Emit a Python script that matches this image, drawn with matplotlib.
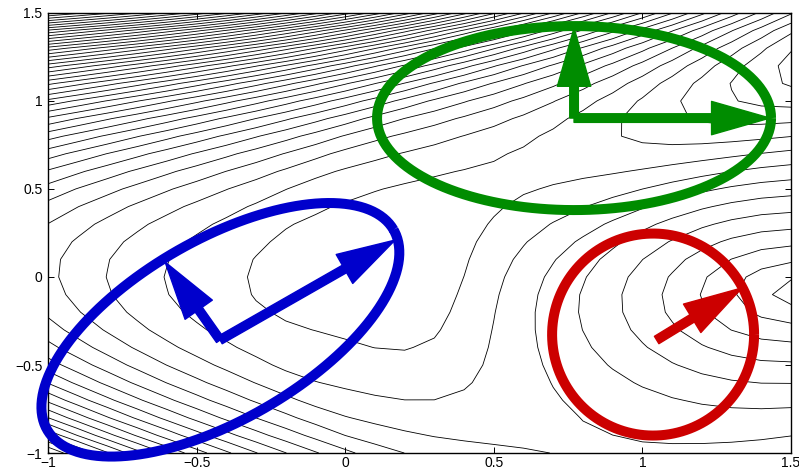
import numpy as np
import matplotlib
matplotlib.use("Agg")
import matplotlib.pyplot as plt
from matplotlib.patches import FancyArrowPatch

plt.rcParams["font.family"] = ["Liberation Sans", "DejaVu Sans"]
plt.rcParams["contour.negative_linestyle"] = "solid"

# axis ranges and ticks
x_lim = [-1.0, 1.5]
y_lim = [-1.0, 1.5]
x_ticks = [-1, -0.5, 0, 0.5, 1, 1.5]
y_ticks = [-1, -0.5, 0, 0.5, 1, 1.5]
grid_step = 0.1

# surface terms (s = x + 1)
top_wall = [3.15, 1.8, 0.42, 0.12]     # scale, rate, rate growth (linear, quadratic)
top_line = [0.02, 0.45, 0.04]          # wall base: offset, linear, quadratic in s
bottom_wall = [3.15, 1.8]              # scale, rate
bottom_line = [0.05, -0.55]            # wall base: offset, slope
left_wall = [0.35, 3.0]                # scale, rate
hill_center = [1.53, -0.08]
hill_shape = [12.1, 540.0, 1.4, 2.0, 2.0]   # height, reach (px), power, squeeze above, squeeze below
well_center = [2.0, 1.51]
well_shape = [4.0, 1.0, 0.25, 0.73]    # depth, length, width, axis slope
lift_center = [-0.15, 0.0]
lift_shape = [0.45, 0.22, 0.3]         # height, x width, y width
dip_center = [0.3, -0.15]
dip_shape = [-0.8, 0.18, 0.35]         # height, x width, y width
level_anchor = [-0.966, 0.05]          # a point lying on one of the drawn levels

# ellipses (center in data units, semi-axes in pixels, angle in degrees)
ell_centers = [(-0.42, -0.30), (0.77, 0.903), (1.036, -0.327)]
ell_axes = [(200, 90), (197, 92), (101, 101)]
ell_angles = [30, 0, 0]
ell_colors = ["#0000cc", "#008c00", "#cc0000"]

# arrows: origin, tip, colour index
arrow_from = [(-0.421, -0.358), (-0.421, -0.358), (0.77, 0.903), (0.77, 0.903), (1.048, -0.358)]
arrow_to = [(0.168, 0.21), (-0.606, 0.085), (1.429, 0.903), (0.77, 1.415), (1.335, -0.062)]
arrow_col = [0, 0, 1, 1, 2]

W, Hh, dpi = 799, 469, 100
ax_left, ax_right, ax_top, ax_bottom = 48, 791, 13, 453
# pixels per data unit
ppx = (ax_right - ax_left) / (x_lim[1] - x_lim[0])
ppy = (ax_bottom - ax_top) / (y_lim[1] - y_lim[0])


def bump(X, Y, c, shape):
    return shape[0] * np.exp(-0.5 * (((X - c[0]) / shape[1]) ** 2 + ((Y - c[1]) / shape[2]) ** 2))


def surface(X, Y):
    s = X - x_lim[0]
    kt = top_wall[1] + top_wall[2] * s + top_wall[3] * s ** 2
    qt = top_line[0] + top_line[1] * s + top_line[2] * s ** 2
    T = top_wall[0] * np.exp(kt * (Y - qt))
    B = bottom_wall[0] * np.exp(-bottom_wall[1] * (Y - bottom_line[0] - bottom_line[1] * s))
    L = left_wall[0] * np.exp(-left_wall[1] * s)
    dx = (X - hill_center[0]) * ppx
    dy = (Y - hill_center[1]) * ppy
    dy = dy * np.where(dy > 0, hill_shape[3], hill_shape[4])
    r = np.hypot(dx, dy)
    Hl = hill_shape[0] * np.clip(1 - r / hill_shape[1], 0, None) ** hill_shape[2]
    n = np.hypot(1.0, well_shape[3])
    ux, uy = X - well_center[0], Y - well_center[1]
    u = (ux + well_shape[3] * uy) / n
    v = (-well_shape[3] * ux + uy) / n
    Wl = -well_shape[0] * np.exp(-0.5 * ((u / well_shape[1]) ** 2 + (v / well_shape[2]) ** 2))
    return (T + B + L + Hl + Wl + bump(X, Y, lift_center, lift_shape)
            + bump(X, Y, dip_center, dip_shape))


xs = np.arange(x_lim[0], x_lim[1] + 1e-9, grid_step)
ys = np.arange(y_lim[0], y_lim[1] + 1e-9, grid_step)
X, Y = np.meshgrid(xs, ys)
Z = surface(X, Y)
base = surface(np.array(level_anchor[0]), np.array(level_anchor[1]))
levels = base + np.arange(np.floor(Z.min() - base), np.ceil(Z.max() - base) + 1)

fig = plt.figure(figsize=(W / dpi, Hh / dpi), dpi=dpi)
ax = fig.add_axes([ax_left / W, (Hh - ax_bottom) / Hh,
                   (ax_right - ax_left) / W, (ax_bottom - ax_top) / Hh])

ax.contour(X, Y, Z, levels=levels, colors="k", linewidths=0.6)

ax.set_xlim(x_lim)
ax.set_ylim(y_lim)
ax.set_xticks(x_ticks)
ax.set_yticks(y_ticks)
ax.set_xticklabels([f"{t:g}".replace("-", "\u2212") for t in x_ticks])
ax.set_yticklabels([f"{t:g}".replace("-", "\u2212") for t in y_ticks])
ax.tick_params(direction="in", top=True, right=True, length=4, width=0.7,
               labelsize=10)
ax.tick_params(axis="x", pad=2)
ax.tick_params(axis="y", pad=4)
for s in ax.spines.values():
    s.set_linewidth(1.0)

t = np.linspace(0, 2 * np.pi, 300)
for (cx, cy), (a, b), ang, col in zip(ell_centers, ell_axes, ell_angles, ell_colors):
    th = np.deg2rad(ang)
    px = a * np.cos(t) * np.cos(th) - b * np.sin(t) * np.sin(th)
    py = a * np.cos(t) * np.sin(th) + b * np.sin(t) * np.cos(th)
    ax.plot(cx + px / ppx, cy + py / ppy, color=col, lw=7.2, solid_capstyle="butt",
            clip_on=False, zorder=3)

for p0, p1, ci in zip(arrow_from, arrow_to, arrow_col):
    arr = FancyArrowPatch(p0, p1, arrowstyle="simple,head_length=4.2,head_width=2.4,tail_width=0.62",
                          mutation_scale=10, color=ell_colors[ci], shrinkA=0, shrinkB=0,
                          zorder=4, clip_on=False)
    ax.add_patch(arr)

fig.savefig("out.png", dpi=dpi)
